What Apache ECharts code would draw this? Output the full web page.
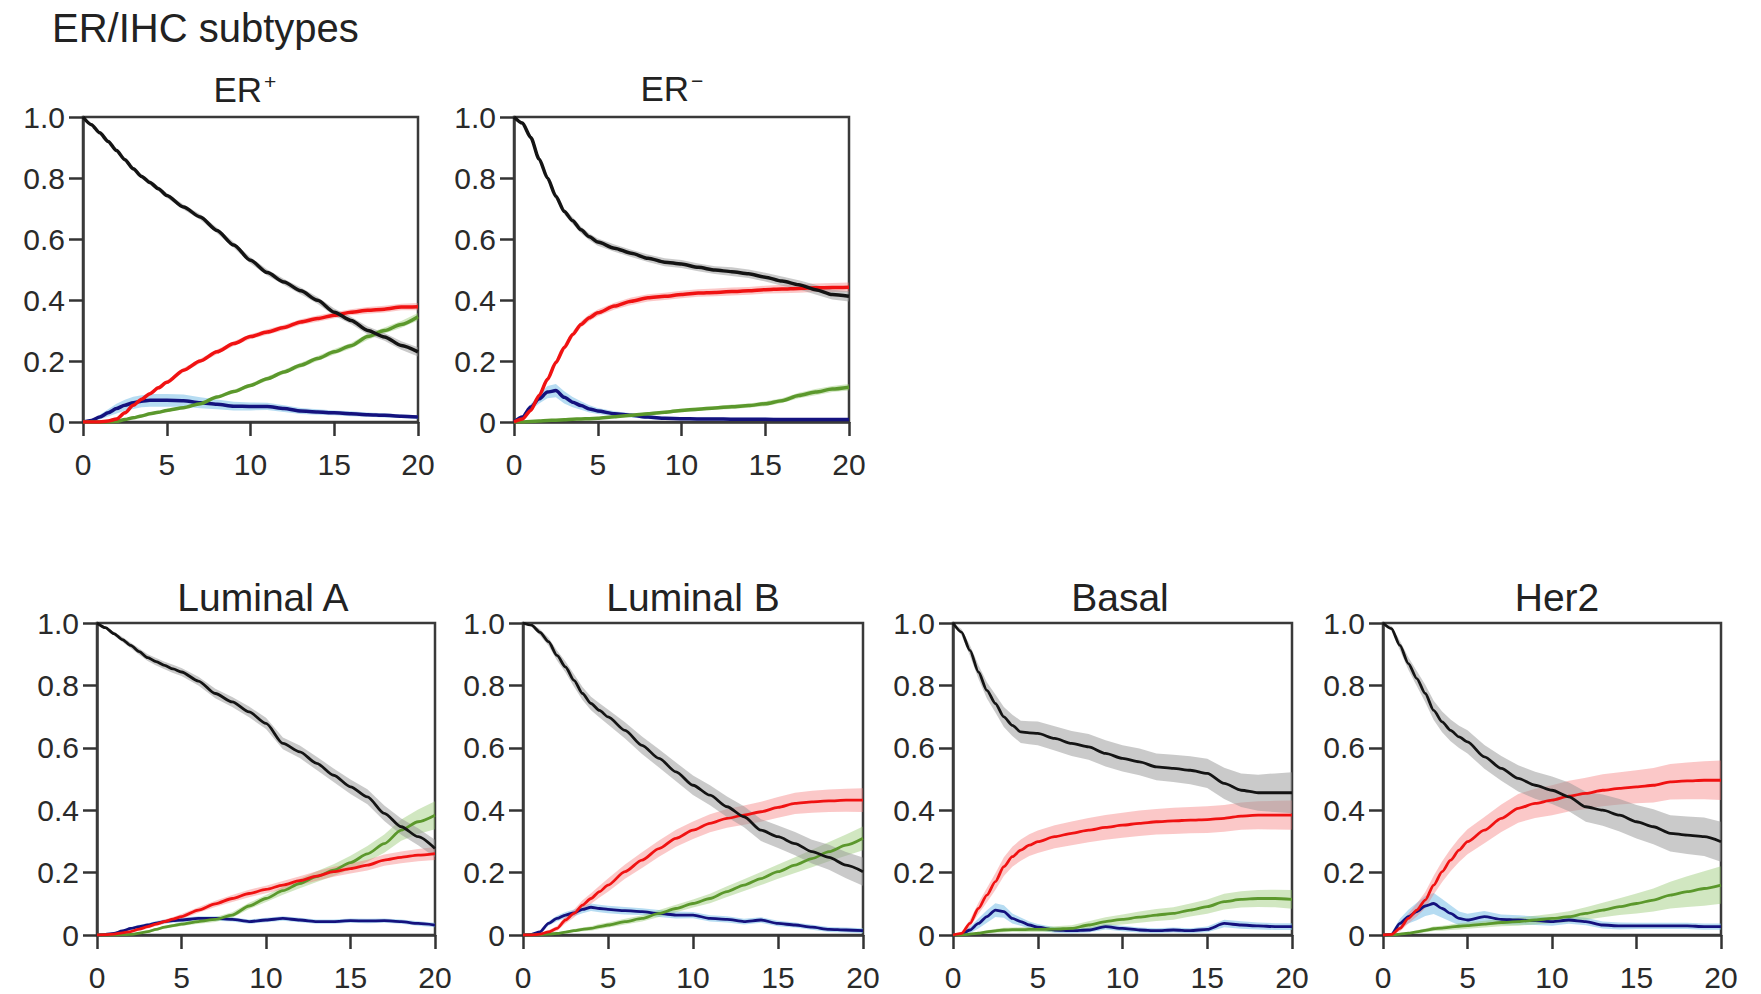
<!DOCTYPE html>
<html>
<head>
<meta charset="utf-8">
<title>ER/IHC subtypes</title>
<script src="https://cdn.jsdelivr.net/npm/echarts@6/dist/echarts.min.js"></script>
<style>
html, body { margin: 0; padding: 0; background: #fff; }
#main { width: 1761px; height: 994px; }
</style>
</head>
<body>
<div id="main"></div>
<script>
// years since diagnosis (shared x for every curve)
var years = [0, 0.5, 1, 1.5, 2, 2.5, 3, 3.5, 4, 4.5, 5, 6, 7, 8, 9, 10, 11, 12, 13, 14, 15, 16, 17, 18, 19, 20];
var xTickLabels = ['0', '5', '10', '15', '20'];
var yTickLabels = ['0', '0.2', '0.4', '0.6', '0.8', '1.0'];

// ER+
var erPosBlack = [1.0, 0.975, 0.948, 0.92, 0.89, 0.86, 0.83, 0.805, 0.785, 0.765, 0.743, 0.705, 0.672, 0.628, 0.58, 0.53, 0.49, 0.459, 0.43, 0.399, 0.36, 0.333, 0.30, 0.279, 0.251, 0.23];
var erPosRed = [0, 0, 0, 0.003, 0.01, 0.03, 0.055, 0.075, 0.093, 0.112, 0.13, 0.17, 0.20, 0.23, 0.257, 0.28, 0.295, 0.31, 0.328, 0.339, 0.35, 0.36, 0.366, 0.37, 0.377, 0.378];
var erPosGreen = [0, 0, 0, 0, 0.002, 0.008, 0.014, 0.02, 0.027, 0.032, 0.038, 0.047, 0.06, 0.082, 0.10, 0.12, 0.142, 0.164, 0.186, 0.208, 0.23, 0.25, 0.28, 0.30, 0.32, 0.345];
var erPosBlue = [0, 0.005, 0.016, 0.03, 0.044, 0.055, 0.063, 0.068, 0.071, 0.071, 0.071, 0.07, 0.063, 0.058, 0.052, 0.051, 0.051, 0.044, 0.036, 0.033, 0.03, 0.027, 0.024, 0.022, 0.019, 0.016];
var erPosBlackCI = [0, 0.004, 0.005, 0.006, 0.006, 0.007, 0.007, 0.007, 0.008, 0.008, 0.008, 0.008, 0.009, 0.009, 0.009, 0.01, 0.01, 0.01, 0.011, 0.011, 0.012, 0.012, 0.013, 0.013, 0.014, 0.015];
var erPosRedCI = [0, 0, 0.002, 0.003, 0.004, 0.004, 0.005, 0.005, 0.006, 0.006, 0.006, 0.007, 0.007, 0.008, 0.008, 0.008, 0.009, 0.009, 0.009, 0.01, 0.01, 0.01, 0.011, 0.011, 0.011, 0.012];
var erPosGreenCI = [0, 0, 0, 0, 0.001, 0.002, 0.003, 0.003, 0.003, 0.004, 0.004, 0.004, 0.005, 0.005, 0.006, 0.006, 0.007, 0.007, 0.008, 0.008, 0.009, 0.009, 0.01, 0.01, 0.011, 0.012];
var erPosBlueCI = [0, 0.004, 0.008, 0.012, 0.016, 0.018, 0.02, 0.02, 0.021, 0.021, 0.021, 0.02, 0.018, 0.016, 0.014, 0.013, 0.012, 0.011, 0.01, 0.009, 0.008, 0.008, 0.007, 0.007, 0.006, 0.006];

// ER-
var erNegBlack = [1.0, 0.98, 0.933, 0.862, 0.80, 0.74, 0.69, 0.66, 0.63, 0.607, 0.59, 0.57, 0.553, 0.537, 0.524, 0.518, 0.507, 0.498, 0.493, 0.486, 0.475, 0.462, 0.45, 0.434, 0.418, 0.412];
var erNegRed = [0, 0.01, 0.038, 0.087, 0.14, 0.195, 0.244, 0.287, 0.32, 0.342, 0.358, 0.38, 0.396, 0.407, 0.412, 0.418, 0.423, 0.425, 0.428, 0.43, 0.434, 0.436, 0.438, 0.44, 0.441, 0.442];
var erNegGreen = [0, 0, 0.002, 0.003, 0.005, 0.006, 0.007, 0.009, 0.01, 0.011, 0.012, 0.017, 0.022, 0.027, 0.032, 0.038, 0.042, 0.046, 0.05, 0.054, 0.06, 0.07, 0.087, 0.098, 0.108, 0.114];
var erNegBlue = [0, 0.016, 0.049, 0.076, 0.098, 0.103, 0.081, 0.065, 0.054, 0.043, 0.036, 0.027, 0.022, 0.016, 0.012, 0.011, 0.01, 0.01, 0.009, 0.009, 0.009, 0.008, 0.008, 0.008, 0.008, 0.008];
var erNegBlackCI = [0, 0.004, 0.006, 0.008, 0.009, 0.01, 0.01, 0.011, 0.011, 0.011, 0.012, 0.012, 0.012, 0.012, 0.013, 0.013, 0.013, 0.013, 0.014, 0.014, 0.014, 0.015, 0.015, 0.016, 0.016, 0.017];
var erNegRedCI = [0, 0.003, 0.005, 0.007, 0.008, 0.009, 0.01, 0.01, 0.01, 0.011, 0.011, 0.011, 0.012, 0.012, 0.012, 0.012, 0.012, 0.013, 0.013, 0.013, 0.013, 0.014, 0.014, 0.014, 0.015, 0.015];
var erNegGreenCI = [0, 0, 0.001, 0.001, 0.002, 0.002, 0.002, 0.003, 0.003, 0.003, 0.003, 0.004, 0.004, 0.005, 0.005, 0.006, 0.006, 0.006, 0.007, 0.007, 0.008, 0.008, 0.009, 0.01, 0.01, 0.011];
var erNegBlueCI = [0, 0.005, 0.01, 0.015, 0.02, 0.022, 0.02, 0.017, 0.014, 0.012, 0.01, 0.008, 0.007, 0.006, 0.005, 0.005, 0.005, 0.005, 0.005, 0.005, 0.005, 0.005, 0.005, 0.005, 0.005, 0.005];

// Luminal A
var lumABlack = [1.0, 0.985, 0.966, 0.947, 0.928, 0.908, 0.889, 0.876, 0.864, 0.853, 0.843, 0.814, 0.774, 0.747, 0.715, 0.678, 0.614, 0.587, 0.55, 0.512, 0.475, 0.443, 0.39, 0.347, 0.315, 0.277];
var lumARed = [0, 0.001, 0.003, 0.007, 0.011, 0.019, 0.027, 0.035, 0.043, 0.051, 0.059, 0.08, 0.10, 0.117, 0.133, 0.146, 0.16, 0.174, 0.189, 0.203, 0.213, 0.224, 0.24, 0.249, 0.256, 0.261];
var lumAGreen = [0, 0, 0, 0.001, 0.002, 0.006, 0.011, 0.018, 0.025, 0.03, 0.035, 0.043, 0.05, 0.064, 0.093, 0.117, 0.142, 0.165, 0.187, 0.208, 0.232, 0.26, 0.293, 0.336, 0.363, 0.384];
var lumABlue = [0, 0.002, 0.005, 0.013, 0.021, 0.027, 0.032, 0.038, 0.043, 0.046, 0.048, 0.053, 0.053, 0.05, 0.043, 0.048, 0.053, 0.048, 0.043, 0.043, 0.046, 0.045, 0.046, 0.043, 0.037, 0.032];
var lumABlackCI = [0, 0.004, 0.006, 0.008, 0.009, 0.01, 0.011, 0.012, 0.012, 0.013, 0.013, 0.014, 0.015, 0.016, 0.017, 0.018, 0.019, 0.02, 0.021, 0.022, 0.023, 0.024, 0.025, 0.026, 0.027, 0.028];
var lumARedCI = [0, 0.001, 0.002, 0.003, 0.004, 0.005, 0.006, 0.006, 0.007, 0.007, 0.008, 0.009, 0.01, 0.011, 0.012, 0.012, 0.013, 0.014, 0.015, 0.016, 0.016, 0.017, 0.018, 0.019, 0.02, 0.021];
var lumAGreenCI = [0, 0, 0, 0.001, 0.002, 0.003, 0.004, 0.004, 0.005, 0.005, 0.006, 0.007, 0.008, 0.009, 0.01, 0.011, 0.013, 0.015, 0.017, 0.019, 0.022, 0.025, 0.029, 0.034, 0.039, 0.045];
var lumABlueCI = [0, 0.002, 0.003, 0.004, 0.005, 0.006, 0.006, 0.007, 0.007, 0.007, 0.007, 0.007, 0.007, 0.007, 0.007, 0.007, 0.007, 0.007, 0.007, 0.007, 0.007, 0.007, 0.007, 0.007, 0.007, 0.007];

// Luminal B
var lumBBlack = [1.0, 0.993, 0.97, 0.94, 0.896, 0.859, 0.816, 0.774, 0.742, 0.72, 0.699, 0.656, 0.608, 0.566, 0.523, 0.48, 0.448, 0.411, 0.379, 0.336, 0.315, 0.293, 0.267, 0.249, 0.224, 0.203];
var lumBRed = [0, 0, 0.003, 0.01, 0.021, 0.048, 0.069, 0.096, 0.117, 0.139, 0.16, 0.203, 0.24, 0.277, 0.31, 0.336, 0.358, 0.374, 0.384, 0.395, 0.409, 0.422, 0.427, 0.43, 0.432, 0.432];
var lumBGreen = [0, 0, 0.001, 0.003, 0.005, 0.009, 0.014, 0.018, 0.021, 0.027, 0.032, 0.043, 0.053, 0.069, 0.085, 0.101, 0.117, 0.139, 0.16, 0.181, 0.203, 0.224, 0.245, 0.267, 0.288, 0.31];
var lumBBlue = [0, 0.002, 0.01, 0.037, 0.053, 0.064, 0.071, 0.082, 0.089, 0.085, 0.082, 0.078, 0.075, 0.069, 0.064, 0.064, 0.053, 0.05, 0.043, 0.048, 0.037, 0.032, 0.025, 0.018, 0.016, 0.014];
var lumBBlackCI = [0, 0.005, 0.01, 0.013, 0.016, 0.018, 0.02, 0.021, 0.022, 0.023, 0.024, 0.026, 0.028, 0.029, 0.03, 0.031, 0.032, 0.033, 0.034, 0.035, 0.036, 0.037, 0.038, 0.04, 0.042, 0.045];
var lumBRedCI = [0, 0, 0.003, 0.005, 0.008, 0.011, 0.013, 0.015, 0.017, 0.019, 0.021, 0.023, 0.025, 0.026, 0.027, 0.028, 0.029, 0.03, 0.031, 0.032, 0.033, 0.034, 0.035, 0.036, 0.037, 0.038];
var lumBGreenCI = [0, 0, 0.001, 0.002, 0.003, 0.004, 0.005, 0.006, 0.007, 0.008, 0.008, 0.009, 0.01, 0.011, 0.012, 0.013, 0.015, 0.017, 0.019, 0.021, 0.023, 0.025, 0.028, 0.031, 0.034, 0.038];
var lumBBlueCI = [0, 0.002, 0.004, 0.007, 0.009, 0.01, 0.011, 0.012, 0.012, 0.012, 0.012, 0.012, 0.011, 0.011, 0.011, 0.01, 0.01, 0.01, 0.009, 0.009, 0.009, 0.008, 0.008, 0.008, 0.008, 0.008];

// Basal
var basalBlack = [1.0, 0.971, 0.912, 0.843, 0.784, 0.742, 0.699, 0.672, 0.651, 0.648, 0.646, 0.63, 0.614, 0.603, 0.582, 0.566, 0.555, 0.539, 0.534, 0.528, 0.518, 0.486, 0.464, 0.456, 0.456, 0.456];
var basalRed = [0, 0.005, 0.037, 0.085, 0.128, 0.171, 0.219, 0.251, 0.272, 0.288, 0.299, 0.315, 0.326, 0.336, 0.345, 0.352, 0.358, 0.363, 0.366, 0.368, 0.37, 0.374, 0.381, 0.384, 0.384, 0.384];
var basalGreen = [0, 0, 0.003, 0.006, 0.01, 0.013, 0.016, 0.017, 0.017, 0.018, 0.018, 0.019, 0.021, 0.032, 0.043, 0.05, 0.057, 0.064, 0.069, 0.08, 0.091, 0.107, 0.114, 0.117, 0.117, 0.114];
var basalBlue = [0, 0.002, 0.016, 0.037, 0.059, 0.08, 0.075, 0.053, 0.043, 0.032, 0.025, 0.016, 0.014, 0.016, 0.027, 0.021, 0.016, 0.014, 0.016, 0.014, 0.018, 0.037, 0.032, 0.029, 0.027, 0.027];
var basalBlackCI = [0, 0.01, 0.017, 0.022, 0.026, 0.029, 0.032, 0.034, 0.036, 0.037, 0.038, 0.039, 0.04, 0.041, 0.042, 0.042, 0.043, 0.043, 0.044, 0.045, 0.047, 0.05, 0.054, 0.058, 0.062, 0.066];
var basalRedCI = [0, 0.005, 0.012, 0.018, 0.023, 0.027, 0.03, 0.032, 0.034, 0.035, 0.036, 0.037, 0.038, 0.039, 0.04, 0.04, 0.041, 0.041, 0.042, 0.042, 0.043, 0.043, 0.044, 0.045, 0.046, 0.047];
var basalGreenCI = [0, 0, 0.002, 0.004, 0.005, 0.006, 0.007, 0.007, 0.008, 0.008, 0.008, 0.009, 0.01, 0.012, 0.014, 0.016, 0.018, 0.019, 0.02, 0.021, 0.023, 0.025, 0.026, 0.027, 0.028, 0.03];
var basalBlueCI = [0, 0.004, 0.01, 0.016, 0.02, 0.022, 0.02, 0.016, 0.013, 0.011, 0.01, 0.009, 0.008, 0.008, 0.009, 0.009, 0.008, 0.008, 0.008, 0.008, 0.009, 0.012, 0.012, 0.011, 0.011, 0.011];

// Her2
var her2Black = [1.0, 0.982, 0.928, 0.87, 0.822, 0.774, 0.72, 0.683, 0.656, 0.635, 0.619, 0.571, 0.534, 0.502, 0.48, 0.464, 0.443, 0.411, 0.40, 0.384, 0.363, 0.347, 0.326, 0.32, 0.315, 0.299];
var her2Red = [0, 0.002, 0.021, 0.053, 0.08, 0.112, 0.16, 0.203, 0.24, 0.272, 0.299, 0.336, 0.374, 0.406, 0.422, 0.432, 0.445, 0.454, 0.464, 0.47, 0.475, 0.48, 0.491, 0.494, 0.496, 0.496];
var her2Green = [0, 0, 0.003, 0.006, 0.01, 0.015, 0.02, 0.022, 0.025, 0.028, 0.03, 0.035, 0.04, 0.043, 0.048, 0.053, 0.059, 0.069, 0.08, 0.091, 0.101, 0.112, 0.128, 0.139, 0.149, 0.16];
var her2Blue = [0, 0.002, 0.037, 0.059, 0.075, 0.093, 0.101, 0.085, 0.069, 0.053, 0.048, 0.059, 0.05, 0.048, 0.046, 0.043, 0.048, 0.043, 0.032, 0.029, 0.029, 0.029, 0.029, 0.029, 0.027, 0.027];
var her2BlackCI = [0, 0.008, 0.015, 0.02, 0.024, 0.028, 0.031, 0.033, 0.035, 0.036, 0.037, 0.038, 0.04, 0.042, 0.043, 0.044, 0.046, 0.048, 0.05, 0.052, 0.054, 0.056, 0.058, 0.06, 0.062, 0.064];
var her2RedCI = [0, 0.003, 0.01, 0.016, 0.021, 0.026, 0.03, 0.033, 0.036, 0.038, 0.04, 0.042, 0.044, 0.046, 0.047, 0.048, 0.049, 0.05, 0.051, 0.052, 0.053, 0.055, 0.057, 0.059, 0.061, 0.063];
var her2GreenCI = [0, 0, 0.002, 0.003, 0.005, 0.006, 0.007, 0.008, 0.009, 0.01, 0.01, 0.011, 0.012, 0.013, 0.014, 0.015, 0.017, 0.02, 0.023, 0.027, 0.032, 0.037, 0.043, 0.049, 0.055, 0.06];
var her2BlueCI = [0, 0.005, 0.015, 0.022, 0.028, 0.032, 0.034, 0.03, 0.026, 0.022, 0.02, 0.018, 0.016, 0.015, 0.014, 0.013, 0.012, 0.012, 0.011, 0.011, 0.01, 0.01, 0.01, 0.01, 0.01, 0.01];

var panelNames = ['ER', 'ER', 'Luminal A', 'Luminal B', 'Basal', 'Her2'];
var panelSups = ['+', '\u2212', '', '', '', ''];

// curves listed black, red, green, blue
var panelLines = [
    [erPosBlack, erPosRed, erPosGreen, erPosBlue],
    [erNegBlack, erNegRed, erNegGreen, erNegBlue],
    [lumABlack, lumARed, lumAGreen, lumABlue],
    [lumBBlack, lumBRed, lumBGreen, lumBBlue],
    [basalBlack, basalRed, basalGreen, basalBlue],
    [her2Black, her2Red, her2Green, her2Blue]
];
var panelBands = [
    [erPosBlackCI, erPosRedCI, erPosGreenCI, erPosBlueCI],
    [erNegBlackCI, erNegRedCI, erNegGreenCI, erNegBlueCI],
    [lumABlackCI, lumARedCI, lumAGreenCI, lumABlueCI],
    [lumBBlackCI, lumBRedCI, lumBGreenCI, lumBBlueCI],
    [basalBlackCI, basalRedCI, basalGreenCI, basalBlueCI],
    [her2BlackCI, her2RedCI, her2GreenCI, her2BlueCI]
];

// layout (px)
var grids = [
    {left: 83, top: 117, width: 335, height: 305},
    {left: 514, top: 117, width: 335, height: 305},
    {left: 97, top: 623, width: 338, height: 312},
    {left: 523, top: 623, width: 340, height: 312},
    {left: 953, top: 623, width: 339, height: 312},
    {left: 1383, top: 623, width: 338, height: 312}
];
var lineColors = ['#141414', '#f01212', '#5b982c', '#14127e'];
var bandColors = ['rgba(150,150,150,0.5)', 'rgba(244,110,110,0.38)', 'rgba(140,195,100,0.4)', 'rgba(110,185,230,0.5)'];
var drawOrder = [3, 2, 1, 0];
var FONT = '"Liberation Sans", Arial, Helvetica, sans-serif';

var myChart = echarts.init(document.getElementById('main'), null, {renderer: 'svg'});

var gridOpt = [], xAxes = [], yAxes = [], series = [], graphics = [];

function bandSeries(gi, vals, ci, color) {
    return {
        type: 'custom',
        xAxisIndex: gi,
        yAxisIndex: gi,
        silent: true,
        clip: true,
        z: 1,
        data: [[0, 0]],
        renderItem: function (params, api) {
            var pts = [];
            for (var i = 0; i < years.length; i++) {
                pts.push(api.coord([years[i], Math.min(1, vals[i] + ci[i])]));
            }
            for (var j = years.length - 1; j >= 0; j--) {
                pts.push(api.coord([years[j], Math.max(0, vals[j] - ci[j])]));
            }
            return {type: 'polygon', shape: {points: pts}, style: {fill: color}};
        }
    };
}

grids.forEach(function (g, gi) {
    var top = gi < 2;
    gridOpt.push({left: g.left, top: g.top, width: g.width, height: g.height, show: true,
        borderColor: '#3a3a3a', borderWidth: 2.5, backgroundColor: 'transparent'});
    xAxes.push({
        type: 'value', gridIndex: gi, min: 0, max: 20, interval: 5,
        axisLine: {show: true, lineStyle: {color: '#3a3a3a', width: 2.5}},
        axisTick: {show: true, length: 14, lineStyle: {color: '#333', width: 2.5}},
        splitLine: {show: false},
        axisLabel: {
            margin: 27, fontSize: 30, fontFamily: FONT, color: '#2a2a2a',
            formatter: function (v) { return xTickLabels[Math.round(v / 5)]; }
        }
    });
    yAxes.push({
        type: 'value', gridIndex: gi, min: 0, max: 1, interval: 0.2,
        axisLine: {show: true, lineStyle: {color: '#3a3a3a', width: 2.5}},
        axisTick: {show: true, length: 14, lineStyle: {color: '#333', width: 2.5}},
        splitLine: {show: false},
        axisLabel: {
            margin: 18, fontSize: 30, fontFamily: FONT, color: '#2a2a2a',
            formatter: function (v) { return yTickLabels[Math.round(v / 0.2)]; }
        }
    });
    drawOrder.forEach(function (k) {
        series.push(bandSeries(gi, panelLines[gi][k], panelBands[gi][k], bandColors[k]));
    });
    drawOrder.forEach(function (k, n) {
        series.push({
            type: 'line', xAxisIndex: gi, yAxisIndex: gi,
            showSymbol: false, silent: true, z: 3 + n,
            smooth: 0.25, smoothMonotone: 'x',
            lineStyle: {color: lineColors[k], width: top ? 3.5 : 2.8},
            data: years.map(function (x, i) { return [x, panelLines[gi][k][i]]; })
        });
    });
});

// titles
graphics.push({type: 'text', left: 52, top: 8,
    style: {text: 'ER/IHC subtypes', fontSize: 40, fontFamily: FONT, fill: '#222'}});
var titleY = [89, 88, 597, 597, 597, 597];
var titleCx = [238, 665, 263, 693, 1120, 1557];
grids.forEach(function (g, gi) {
    if (panelSups[gi]) {
        graphics.push({type: 'text', x: titleCx[gi] + 24, y: titleY[gi],
            style: {text: panelNames[gi], fontSize: 35, fontFamily: FONT, fill: '#222',
                textAlign: 'right', textVerticalAlign: 'middle', verticalAlign: 'middle'}});
        graphics.push({type: 'text', x: titleCx[gi] + 26, y: titleY[gi] - 8,
            style: {text: panelSups[gi], fontSize: 21, fontFamily: FONT, fill: '#222',
                textAlign: 'left', textVerticalAlign: 'middle', verticalAlign: 'middle'}});
    } else {
        graphics.push({type: 'text', x: titleCx[gi], y: titleY[gi],
            style: {text: panelNames[gi], fontSize: 39, fontFamily: FONT, fill: '#222',
                textAlign: 'center', textVerticalAlign: 'middle', verticalAlign: 'middle'}});
    }
});

var option = {
    animation: false,
    backgroundColor: '#fff',
    grid: gridOpt,
    xAxis: xAxes,
    yAxis: yAxes,
    series: series,
    graphic: graphics
};
myChart.setOption(option);
</script>
</body>
</html>
